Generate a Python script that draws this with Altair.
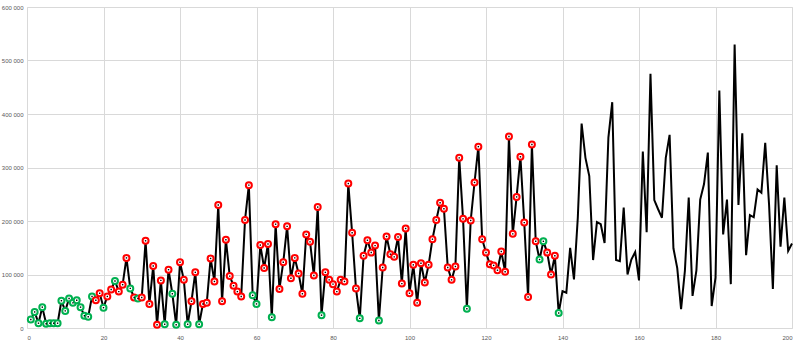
import altair as alt
import pandas as pd

values = [
    16000, 30000, 9000, 39000, 8000, 9000, 9000, 9000, 51000, 32000,
    55000, 47000, 52000, 39000, 23000, 21000, 59000, 52000, 65000, 38000,
    59000, 72000, 88000, 68000, 81000, 131000, 74000, 57000, 55000, 57000,
    163000, 45000, 116000, 6000, 89000, 7000, 109000, 64000, 6000, 123000,
    90000, 7000, 50000, 104000, 7000, 45000, 47000, 130000, 87000, 230000,
    50000, 165000, 97000, 79000, 68000, 59000, 202000, 267000, 61000, 45000,
    155000, 112000, 157000, 20000, 194000, 73000, 123000, 190000, 93000, 131000,
    102000, 64000, 175000, 161000, 98000, 226000, 24000, 104000, 90000, 82000,
    68000, 90000, 87000, 270000, 178000, 74000, 18000, 135000, 164000, 141000,
    154000, 14000, 113000, 171000, 138000, 133000, 170000, 83000, 186000, 65000,
    118000, 47000, 121000, 85000, 118000, 166000, 202000, 234000, 223000, 113000,
    90000, 115000, 318000, 204000, 36000, 201000, 272000, 339000, 166000, 141000,
    119000, 117000, 108000, 143000, 105000, 358000, 176000, 245000, 320000, 197000,
    58000, 343000, 162000, 128000, 162000, 141000, 100000, 135000, 28000, 69000,
    66000, 150000, 91000, 206000, 382000, 318000, 284000, 127000, 198000, 194000,
    159000, 356000, 422000, 127000, 125000, 225000, 100000, 128000, 142000, 89000,
    330000, 179000, 475000, 239000, 222000, 206000, 318000, 361000, 149000, 112000,
    35000, 107000, 244000, 60000, 107000, 240000, 269000, 328000, 41000, 94000,
    444000, 175000, 240000, 82000, 530000, 230000, 364000, 136000, 211000, 207000,
    259000, 253000, 346000, 231000, 73000, 304000, 152000, 244000, 144000, 158000,
]
x_index = list(range(1, len(values) + 1))

# marker status for the first 139 points: G = green, R = red
status = list(
    "GGGGGGGGGGGGGGGG"   # 1-16
    "GRRGRRGRRRGRGR"     # 17-30
    "RRRRRGRGGRRGRRG"    # 31-45
    "RRRRRRRRRRRRRGG"    # 46-60
    "RRRG"               # 61-64
    "RRRRRRRRRRRRG"      # 65-77
    "RRRRRRRRRG"         # 78-87
    "RRRRG"              # 88-92
    "RRRRRRRRRRRRRRRRRRRRRRG"  # 93-115
    "RRRRRRRRRRRRRRRRRRGG"     # 116-135
    "RRRG"               # 136-139
)

df = pd.DataFrame({"x": x_index, "v": values})
mk = pd.DataFrame({"x": x_index[:len(status)], "v": values[:len(status)], "s": status})

xs = alt.Scale(domain=[0, 200], nice=False, zero=False)
ys = alt.Scale(domain=[0, 600000], nice=False)

xaxis = alt.Axis(values=list(range(0, 201, 20)), title=None, grid=True,
                 gridColor="#d9d9d9", domain=False, ticks=False,
                 labelFontSize=6, labelColor="#595959", labelPadding=6,
                 labelFont="Liberation Sans")
yaxis = alt.Axis(values=list(range(0, 600001, 100000)), title=None, grid=True,
                 gridColor="#d9d9d9", domain=False, ticks=False,
                 labelFontSize=6, labelColor="#595959", labelPadding=4,
                 labelFont="Liberation Sans",
                 labelExpr="replace(format(datum.value, ','), regexp(',', 'g'), ' ')")

line = alt.Chart(df).mark_line(color="black", strokeWidth=2).encode(
    x=alt.X("x:Q", scale=xs, axis=xaxis),
    y=alt.Y("v:Q", scale=ys, axis=yaxis),
)

circles = alt.Chart(mk).mark_point(shape="circle", filled=False, fill="white",
                                    fillOpacity=1, strokeWidth=2, size=36, opacity=1).encode(
    x=alt.X("x:Q", scale=xs),
    y=alt.Y("v:Q", scale=ys),
    stroke=alt.Color("s:N", scale=alt.Scale(domain=["R", "G"], range=["#ff0000", "#00b050"]), legend=None),
)

dots = alt.Chart(mk).mark_point(shape="square", filled=True, color="black", size=2, opacity=1).encode(
    x=alt.X("x:Q", scale=xs),
    y=alt.Y("v:Q", scale=ys),
)

chart = (line + circles + dots).properties(
    width=765, height=321,
    padding={"left": 27, "top": 7, "right": 8, "bottom": 23},
    autosize=alt.AutoSizeParams(type="none"),
).configure_view(stroke=None).configure(background="white")

chart.save("out.html", embed_options={"renderer": "svg", "actions": False})
